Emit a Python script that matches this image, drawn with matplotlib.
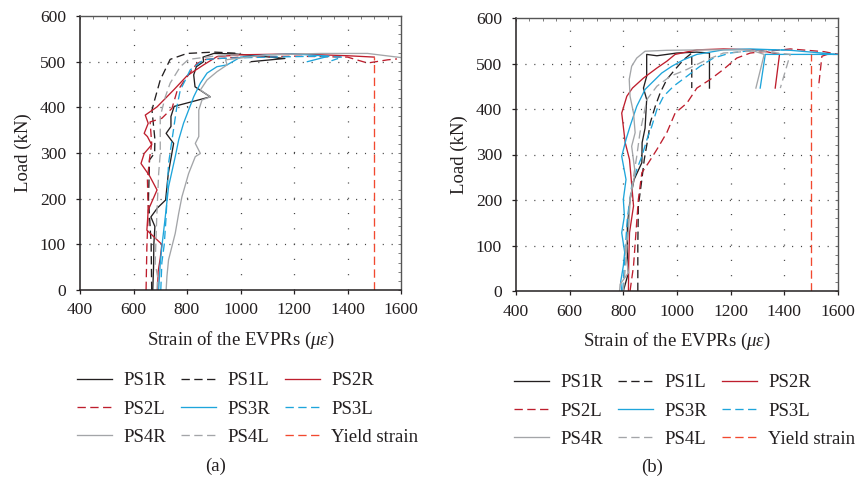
import numpy as np
import matplotlib
matplotlib.use("Agg")
import matplotlib.pyplot as plt

plt.rcParams['font.family'] = ['Liberation Serif', 'DejaVu Serif']
plt.rcParams['mathtext.fontset'] = 'custom'
plt.rcParams['mathtext.rm'] = 'Liberation Serif'
plt.rcParams['mathtext.it'] = 'Liberation Serif:italic'
plt.rcParams['lines.scale_dashes'] = False

# ---------------- data: panel (a) ----------------
a_PS1R_x = [672, 675, 676, 680, 665, 690, 720, 730, 750, 722, 740, 740, 752, 887, 830, 825, 835, 862, 860, 900, 980, 1166, 1040]
a_PS1R_y = [0, 50, 100, 139, 160, 180, 197, 255, 321, 343, 358, 380, 402, 423, 445, 471, 489, 500, 510, 518, 517, 507, 500]
a_PS1L_x = [668, 666, 660, 656, 660, 679, 680, 669, 679, 700, 737, 800, 900, 1000]
a_PS1L_y = [0, 100, 160, 200, 285, 300, 330, 394, 416, 460, 505, 518, 521, 518]
a_PS2R_x = [690, 692, 700, 706, 650, 655, 688, 660, 628, 640, 668, 652, 640, 655, 644, 688, 750, 800, 862, 912, 1000, 1200, 1400, 1500]
a_PS2R_y = [0, 40, 70, 100, 131, 175, 219, 250, 277, 299, 318, 336, 343, 365, 383, 401, 438, 469, 493, 511, 515, 517, 513, 510]
a_PS2L_x = [647, 650, 655, 652, 660, 668, 662, 706, 744, 762, 800, 837, 870, 1000, 1200, 1400, 1475, 1550, 1585]
a_PS2L_y = [0, 95, 168, 241, 288, 321, 368, 376, 398, 434, 467, 496, 505, 510, 512, 510, 497, 504, 506]
a_PS3R_x = [694, 700, 706, 719, 731, 756, 769, 787, 806, 825, 850, 875, 912, 950, 1000, 1100, 1200, 1330, 1250]
a_PS3R_y = [0, 58, 95, 161, 226, 292, 329, 365, 394, 423, 453, 475, 489, 493, 510, 515, 517, 512, 500]
a_PS3L_x = [702, 706, 715, 722, 731, 744, 762, 775, 794, 812, 862, 912, 1100, 1300, 1380, 1340]
a_PS3L_y = [0, 60, 100, 161, 277, 329, 401, 438, 460, 482, 504, 507, 510, 512, 510, 502]
a_PS4R_x = [722, 725, 731, 756, 769, 781, 806, 831, 850, 831, 844, 844, 856, 887, 850, 875, 912, 950, 944, 1100, 1300, 1475, 1600]
a_PS4R_y = [0, 30, 66, 124, 168, 204, 255, 292, 299, 321, 336, 394, 416, 423, 438, 460, 478, 493, 504, 515, 518, 518, 509]
a_PS4L_x = [688, 690, 681, 687, 694, 700, 700, 719, 737, 775, 806, 900, 1000]
a_PS4L_y = [0, 30, 58, 161, 255, 299, 380, 423, 453, 489, 505, 512, 515]
a_yield_x = [1500, 1500]
a_yield_y = [0, 510]

# ---------------- data: panel (b) ----------------
b_PS1R_x = [800, 819, 815, 815, 825, 840, 869, 870, 881, 887, 875, 887, 887, 925, 999, 1074, 1121, 1121]
b_PS1R_y = [0, 40, 84, 143, 201, 245, 282, 326, 358, 421, 446, 472, 520, 517, 523, 525, 523, 446]
b_PS1L_x = [854, 854, 856, 869, 878, 891, 900, 919, 937, 962, 993, 1024, 1055, 1055]
b_PS1L_y = [0, 100, 187, 245, 289, 333, 369, 406, 435, 465, 487, 508, 523, 446]
b_PS2R_x = [819, 820, 823, 838, 823, 807, 794, 813, 834, 875, 925, 962, 993, 1074, 1173, 1300, 1382, 1366]
b_PS2R_y = [0, 60, 128, 187, 289, 326, 391, 428, 446, 468, 490, 505, 520, 530, 532, 530, 520, 446]
b_PS2L_x = [825, 838, 847, 856, 869, 894, 925, 962, 993, 1037, 1074, 1124, 1173, 1223, 1273, 1422, 1548, 1600, 1560, 1540, 1527]
b_PS2L_y = [0, 55, 128, 201, 260, 282, 311, 348, 391, 413, 446, 465, 487, 512, 523, 532, 526, 520, 520, 516, 446]
b_PS3R_x = [794, 790, 800, 805, 794, 804, 800, 810, 794, 810, 825, 850, 881, 912, 943, 981, 1024, 1074, 1173, 1273, 1422, 1600, 1329, 1310]
b_PS3R_y = [0, 20, 55, 85, 128, 165, 201, 245, 296, 333, 362, 406, 443, 461, 479, 494, 508, 520, 530, 532, 529, 520, 520, 446]
b_PS3L_x = [798, 807, 815, 831, 850, 869, 888, 906, 925, 950, 987, 1037, 1086, 1136, 1198, 1298, 1400]
b_PS3L_y = [0, 91, 160, 230, 267, 296, 333, 362, 399, 428, 450, 472, 494, 512, 523, 530, 530]
b_PS4R_x = [786, 788, 819, 807, 819, 825, 844, 831, 844, 838, 825, 822, 831, 850, 881, 962, 1100, 1273, 1325, 1294]
b_PS4R_y = [0, 15, 40, 91, 128, 201, 260, 318, 348, 391, 428, 465, 494, 512, 527, 529, 530, 530, 520, 446]
b_PS4L_x = [800, 813, 825, 838, 850, 862, 888, 925, 975, 1037, 1099, 1173, 1300, 1422, 1385]
b_PS4L_y = [0, 91, 201, 252, 296, 348, 421, 450, 472, 487, 505, 523, 528, 520, 446]
b_yield_x = [1500, 1500]
b_yield_y = [0, 520]

series_names = ["PS1R", "PS1L", "PS2R", "PS2L", "PS3R", "PS3L", "PS4R", "PS4L", "Yield strain"]
x_ticks = [400, 600, 800, 1000, 1200, 1400, 1600]
y_ticks = [0, 100, 200, 300, 400, 500, 600]
panel_labels = ["(a)", "(b)"]

BLACK = "#231f20"
RED = "#be1e2d"
BLUE = "#1ea5db"
GREY = "#a3a5a8"
YIELD = "#f2492f"
DASH = (6.0, 3.2)
styles = [
    (BLACK, None), (BLACK, DASH), (RED, None), (RED, DASH),
    (BLUE, None), (BLUE, DASH), (GREY, None), (GREY, DASH), (YIELD, DASH),
]

panel_a = [(a_PS1R_x, a_PS1R_y), (a_PS1L_x, a_PS1L_y), (a_PS2R_x, a_PS2R_y), (a_PS2L_x, a_PS2L_y),
           (a_PS3R_x, a_PS3R_y), (a_PS3L_x, a_PS3L_y), (a_PS4R_x, a_PS4R_y), (a_PS4L_x, a_PS4L_y),
           (a_yield_x, a_yield_y)]
panel_b = [(b_PS1R_x, b_PS1R_y), (b_PS1L_x, b_PS1L_y), (b_PS2R_x, b_PS2R_y), (b_PS2L_x, b_PS2L_y),
           (b_PS3R_x, b_PS3R_y), (b_PS3L_x, b_PS3L_y), (b_PS4R_x, b_PS4R_y), (b_PS4L_x, b_PS4L_y),
           (b_yield_x, b_yield_y)]

fig = plt.figure(figsize=(8.6, 4.83), dpi=100)
ax_rects = [[80/860, 1-290/483, 321/860, 274/483], [516/860, 1-291/483, 322/860, 273/483]]
legend_anchor = [(77/860, 1-372/483), (514/860, 1-374/483)]
label_pos = [(216/860, 1-466/483), (652/860, 1-467/483)]

for k, (data, rect) in enumerate(zip([panel_a, panel_b], ax_rects)):
    ax = fig.add_axes(rect)
    ax.set_xlim(400, 1600)
    ax.set_ylim(0, 600)
    # grid (dotted)
    for xv in x_ticks[1:-1]:
        ax.axvline(xv, color="#444444", lw=0.9, dashes=(0.8, 10.2), zorder=0)
    for yv in y_ticks[1:-1]:
        ax.axhline(yv, color="#444444", lw=0.9, dashes=(0.8, 5.6), zorder=0)
    handles = []
    for (xs, ys), name, (c, d) in zip(data, series_names, styles):
        if d is None:
            h, = ax.plot(xs, ys, color=c, lw=0.95, label=name)
        else:
            h, = ax.plot(xs, ys, color=c, lw=0.95, dashes=d, label=name)
        handles.append(h)
    ax.set_xticks(x_ticks)
    ax.set_yticks(y_ticks)
    ax.tick_params(axis='both', which='major', direction='out', length=3, width=0.9,
                   labelsize=12.6, colors=BLACK, pad=6)
    ax.tick_params(axis='y', pad=7)
    # minor ticks on top / right
    ax2x = ax.secondary_xaxis('top')
    ax2x.set_xticks(np.arange(400, 1601, 50))
    ax2x.tick_params(direction='in', length=2, width=0.6, colors="#666666", labeltop=False)
    ax2x.set_xticklabels([])
    ax2x.spines['top'].set_visible(False)
    ax2y = ax.secondary_yaxis('right')
    ax2y.set_yticks(np.arange(0, 601, 20))
    ax2y.tick_params(direction='in', length=2, width=0.6, colors="#666666")
    ax2y.set_yticklabels([])
    ax2y.spines['right'].set_visible(False)
    for s in ['left', 'bottom']:
        ax.spines[s].set_color(BLACK)
        ax.spines[s].set_linewidth(1.1)
    for s in ['top', 'right']:
        ax.spines[s].set_color("#555555")
        ax.spines[s].set_linewidth(1.0)
    ax.set_xlabel(r"Strain of the EVPRs ($\mu\varepsilon$)", fontsize=13.5, color=BLACK, labelpad=8)
    ax.set_ylabel("Load (kN)", fontsize=13.5, color=BLACK, labelpad=6)
    order = [0, 3, 6, 1, 4, 7, 2, 5, 8]
    leg = ax.legend([handles[i] for i in order], [series_names[i] for i in order],
                    loc='upper left', bbox_to_anchor=legend_anchor[k], bbox_transform=fig.transFigure,
                    ncol=3, frameon=False, fontsize=13.5, handlelength=1.85, handletextpad=0.62,
                    columnspacing=0.8, labelspacing=0.6, borderpad=0, borderaxespad=0)
    for t in leg.get_texts():
        t.set_color(BLACK)
    fig.text(label_pos[k][0], label_pos[k][1], panel_labels[k], fontsize=13.5, ha='center', va='center', color=BLACK)

fig.savefig("out.png", dpi=100)
